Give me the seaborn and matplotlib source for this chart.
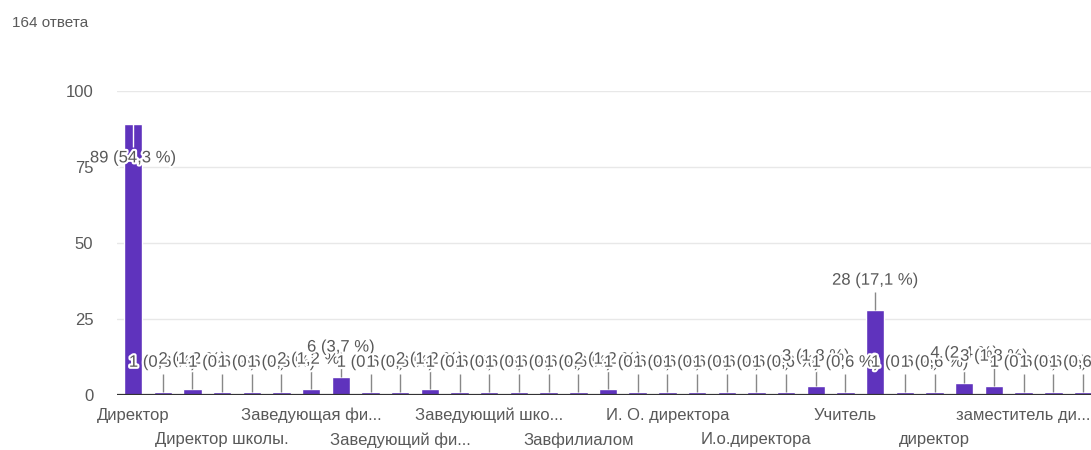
import matplotlib
matplotlib.use("Agg")
import matplotlib.pyplot as plt
import matplotlib.transforms as mtransforms
import matplotlib.patheffects as pe
import seaborn as sns
import pandas as pd

# ---- data ----
counts = [89, 1, 2, 1, 1, 1, 2, 6, 1, 1, 2, 1, 1, 1, 1, 1, 2,
          1, 1, 1, 1, 1, 1, 3, 1, 28, 1, 1, 4, 3, 1, 1, 1]
total_responses = 164
tick_positions = [0, 3, 6, 9, 12, 15, 18, 21, 24, 27, 30]
tick_labels = ["Директор", "Директор школы.", "Заведующая фи...",
               "Заведующий фи...", "Заведующий шко...", "Завфилиалом",
               "И. О. директора", "И.о.директора", "Учитель",
               "директор", "заместитель ди..."]
header = "164 ответа"
y_ticks = [0, 25, 50, 75, 100]

sns.set_theme(style="white")
plt.rcParams['font.family'] = ['Liberation Sans', 'DejaVu Sans']

df = pd.DataFrame({"pos": list(range(len(counts))), "count": counts})

fig = plt.figure(figsize=(10.91, 4.5), dpi=100)
ax = fig.add_axes([117 / 1091, 55 / 450, (1091 - 117) / 1091, 304 / 450])

bar_color = "#5f33bd"
text_color = "#595959"

# gridlines
for yv in y_ticks[1:]:
    ax.axhline(yv, color="#e8e8e8", lw=1.0, zorder=0)

sns.barplot(data=df, x="pos", y="count", color=bar_color, width=0.62,
            saturation=1, ax=ax, zorder=2)

ax.axhline(0, color="#333333", lw=1.6, zorder=3)

ax.set_xlim(-0.54, 32.27)
ax.set_ylim(0, 100)
ax.set_yticks(y_ticks)
ax.set_yticklabels([str(v) for v in y_ticks], fontsize=12, color=text_color)
ax.tick_params(axis="y", length=0, pad=17)
ax.set_xticks([])
ax.set_xlabel("")
ax.set_ylabel("")
for s in ax.spines.values():
    s.set_visible(False)

halo = [pe.withStroke(linewidth=3, foreground="white")]

# value annotations
for i, v in enumerate(counts):
    pct = f"{v / total_responses * 100:.1f}".replace(".", ",")
    label = f"{v} ({pct} %)"
    if v > 80:
        ax.vlines(i, v - 7.5, v, color="white", lw=1.0, zorder=4)
        ax.text(i, v - 11, label, ha="center", va="center", fontsize=12,
                color=text_color, path_effects=halo, zorder=5, clip_on=False)
    else:
        ax.vlines(i, v, v + 6, color="#888888", lw=1.0, zorder=4)
        ax.text(i, v + 7.3, label, ha="center", va="bottom", fontsize=12,
                color=text_color, path_effects=halo, zorder=5, clip_on=False)

# category labels (two alternating rows)
trans = mtransforms.blended_transform_factory(ax.transData, ax.transAxes)
for k, (p, lab) in enumerate(zip(tick_positions, tick_labels)):
    yrow = -0.066 if k % 2 == 0 else -0.148
    ax.text(p, yrow, lab, transform=trans, ha="center", va="center",
            fontsize=12, color=text_color, clip_on=False)

fig.text(12 / 1091, 1 - 23 / 450, header, ha="left", va="center",
         fontsize=11, color=text_color)

fig.savefig("out.png", dpi=100, facecolor="white")
